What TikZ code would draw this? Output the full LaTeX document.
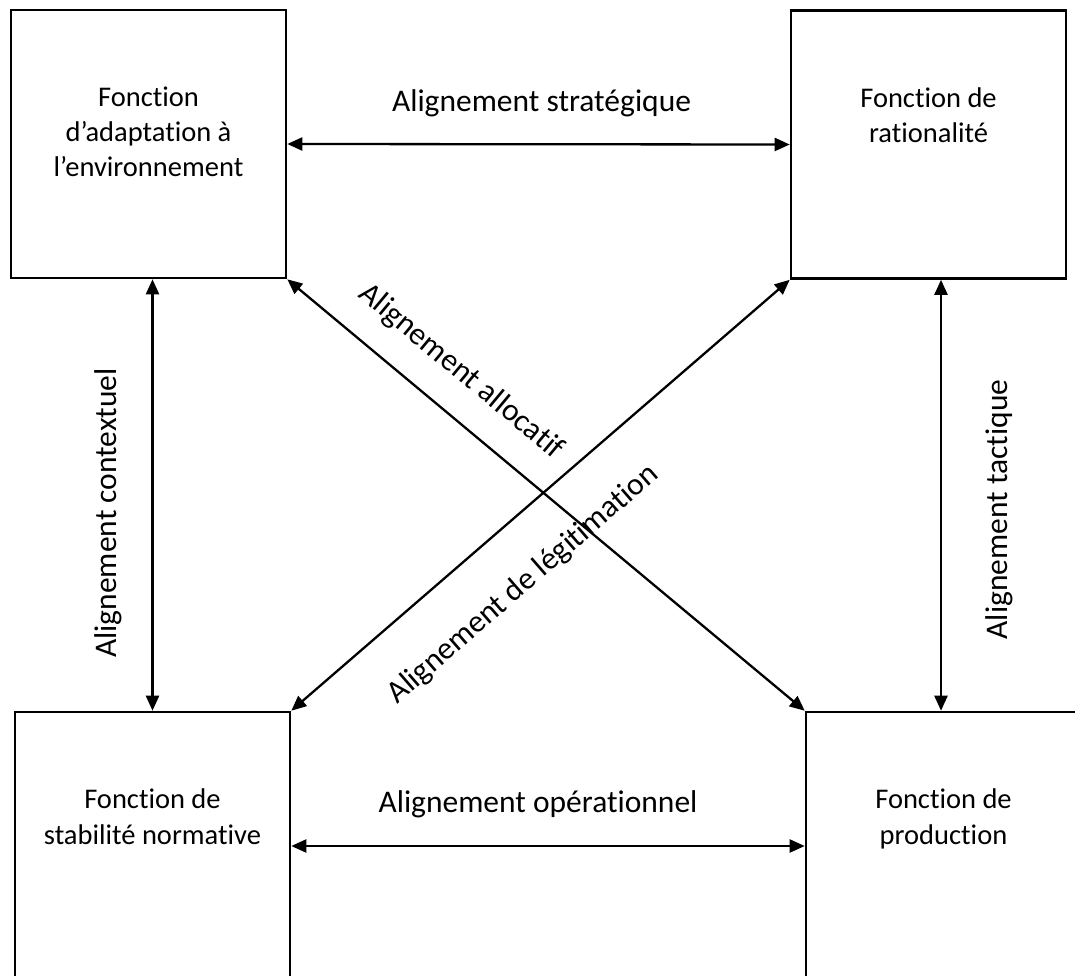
\documentclass[tikz,border=0pt]{standalone}
\usepackage{fontspec}
\setmainfont{Carlito}[Ligatures=NoCommon]
\usetikzlibrary{arrows.meta}

\tikzset{
  fbox/.style={draw=black, line width=2.6pt, fill=white, inner sep=0pt,
    minimum width=275pt, minimum height=268pt},
  ftext/.style={align=center, anchor=base, inner sep=0pt,
    font=\fontsize{28.5}{35.2}\selectfont},
  lbl/.style={anchor=base, inner sep=0pt, font=\fontsize{31.5}{38}\selectfont},
  link/.style={line width=2.3pt, {Triangle[length=15pt,width=13pt]}-{Triangle[length=15pt,width=13pt]}}
}

\begin{document}
\begin{tikzpicture}[x=1pt, y=-1pt]
  \useasboundingbox (0,0) rectangle (1075,976);
  \clip (0,0) rectangle (1075,976);

  % the four functions
  \node[fbox] (tl) at (148.5,144) {};
  \node[fbox] (tr) at (928.5,144.5) {};
  \node[fbox] (bl) at (152.5,846) {};
  \node[fbox] (br) at (943.5,846) {};

  % function names (anchored on the baseline of their last line)
  \node[ftext] (tlt) at (148.5,176.7) {Fonction\\d’adaptation à\\l’environnement};
  \node[ftext] (trt) at (928.5,142.7) {Fonction de\\rationalité};
  \node[ftext] (blt) at (152.5,844) {Fonction de\\stabilité normative};
  \node[ftext] (brt) at (943.5,844) {Fonction de\\production};

  % alignments between functions
  \draw[link] (tl.east) -- (tr.west);
  \draw[link] (bl.east) -- (br.west);
  \draw[link] (bl.north |- tl.south) -- (bl.north);
  \draw[link] ([xshift=12.5pt]tr.south) -- ([xshift=-2.5pt]br.north);
  \draw[link] (tl.south east) -- (br.north west);
  \draw[link] (tr.south west) -- (bl.north east);

  % alignment labels
  \node[lbl] (ls) at (541.5,112) {Alignement stratégique};
  \node[lbl] (lo) at (538,812) {Alignement opérationnel};
  \node[lbl, rotate=90] (lc) at (116,513) {Alignement contextuel};
  \node[lbl, rotate=90] (lt) at (1007,509.5) {Alignement tactique};
  \node[lbl, rotate=-39.8] (la) at (456,378) {Alignement allocatif};
  \node[lbl, rotate=41] (ll) at (528.4,590.8) {Alignement de légitimation};
\end{tikzpicture}
\end{document}
